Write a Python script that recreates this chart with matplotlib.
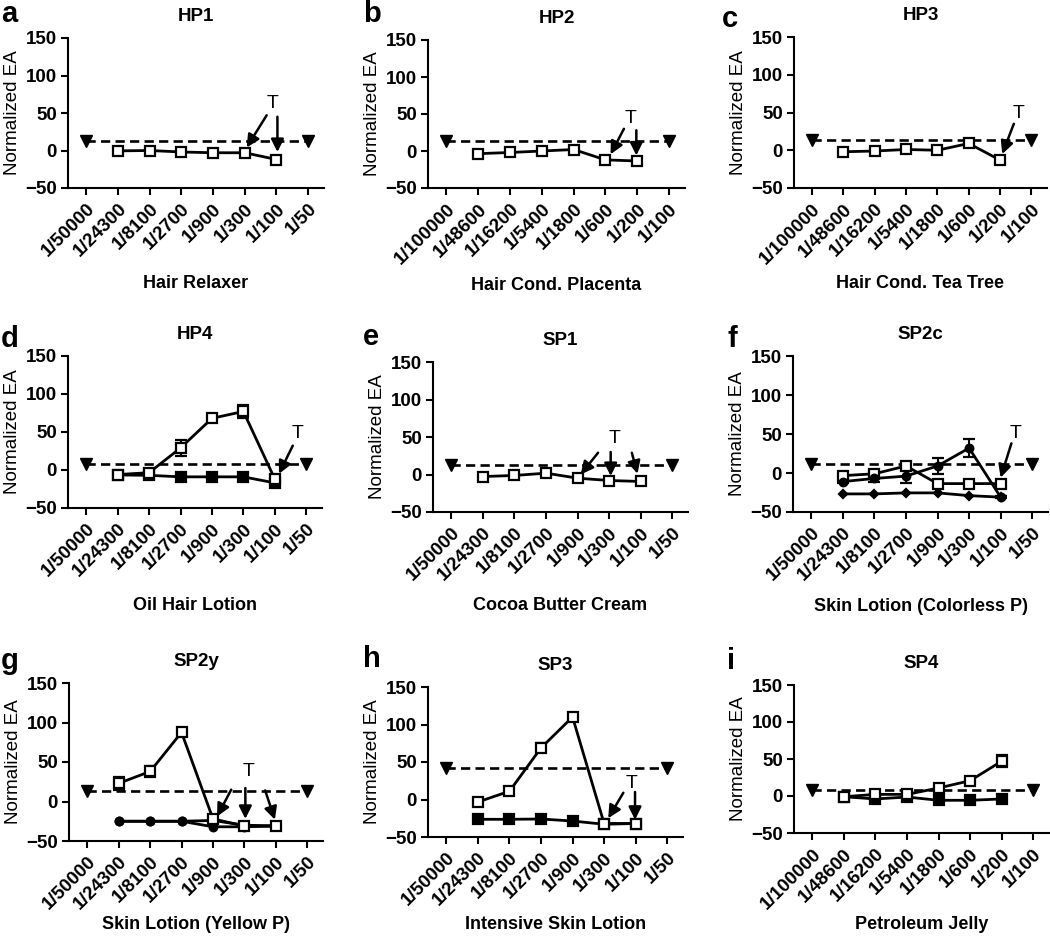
import matplotlib
matplotlib.use('Agg')
import matplotlib.pyplot as plt

plt.rcParams['font.family'] = ['Liberation Sans', 'DejaVu Sans']

# dilution labels
ticks_a = ['1/50000', '1/24300', '1/8100', '1/2700', '1/900', '1/300', '1/100', '1/50']
ticks_b = ['1/100000', '1/48600', '1/16200', '1/5400', '1/1800', '1/600', '1/200', '1/100']

letters = ['a', 'b', 'c', 'd', 'e', 'f', 'g', 'h', 'i']
titles = ['HP1', 'HP2', 'HP3', 'HP4', 'SP1', 'SP2c', 'SP2y', 'SP3', 'SP4']
xlabels = ['Hair Relaxer', 'Hair Cond. Placenta', 'Hair Cond. Tea Tree',
           'Oil Hair Lotion', 'Cocoa Butter Cream', 'Skin Lotion (Colorless P)',
           'Skin Lotion (Yellow P)', 'Intensive Skin Lotion', 'Petroleum Jelly']

# dashed cut-off level (drawn at first and last dilution)
cutoff = [13, 13.5, 13, 8, 12.4, 12, 13.5, 42.4, 7.6]

# normalized EA at the six tested dilutions
hp1_open = [-0.5, 0, -2, -3, -3, -12]
hp2_open = [-3.6, -2, 0, 2, -12, -13.5]
hp3_open = [-2, -1, 1, 0, 9, -13]
hp4_open = [-6, -3.5, 29, 68, 77, -12]
hp4_open_err = [1, 1, 10, 3, 8, 2]
hp4_filled = [-6.5, -7, -9, -9, -9, -17]
sp1_open = [-2.7, -1.3, 1.8, -4.9, -8, -9.3]
sp2c_open = [-3.4, -1, 9, -13.6, -13.6, -13.6]
sp2c_circle = [-11, -7, -4, 9, 32, -31]
sp2c_circle_err = [2, 5, 9, 10, 12, 1]
sp2c_diamond = [-26.8, -26.8, -25.5, -25.5, -29, -31]
sp2y_open = [23, 38, 87.5, -22, -31, -31]
sp2y_open_err = [8, 7, 4, 2, 1, 1]
sp2y_circle1 = [-25, -25, -25, -32, -32, -31]
sp2y_circle2 = [-25, -25, -25, -24, -30, -31]
sp3_open = [-3.3, 11, 68.7, 110, -32, -32]
sp3_open_err = [2, 5, 6, 2, 1, 1]
sp3_filled = [-26.4, -26.4, -26, -28.7, -33, -32]
sp4_open = [-1, 2.2, 2.2, 10.8, 20.7, 47]
sp4_open_err = [1, 1, 1, 1, 2, 8]
sp4_filled = [-1, -4, -1.4, -5.8, -5.8, -4]

W, H = 1050, 936
fig = plt.figure(figsize=(W / 100, H / 100), dpi=100)

# axes boxes in pixels: left, top, right, bottom
boxes = [(68, 38, 324, 188), (428, 40, 685, 188), (794, 37, 1047, 188),
         (68, 356, 322, 508), (433, 362, 688, 512), (793, 356, 1048, 512),
         (69, 683, 323, 841), (428, 687, 683, 837), (794, 685, 1049, 833)]
letter_pos = [(1, 0), (363, 0), (722, 5), (1, 325), (363, 323), (727, 325),
              (1, 647), (363, 645), (727, 647)]
# top of the x label, pixels
xlabel_top = [275, 277, 275, 597, 597, 598, 916, 916, 916]

# series for each panel: (values, errors, marker, face)
panel_series = [
    [(hp1_open, None, 's', 'white')],
    [(hp2_open, None, 's', 'white')],
    [(hp3_open, None, 's', 'white')],
    [(hp4_filled, None, 's', 'black'), (hp4_open, hp4_open_err, 's', 'white')],
    [(sp1_open, None, 's', 'white')],
    [(sp2c_diamond, None, 'D', 'black'), (sp2c_open, None, 's', 'white'),
     (sp2c_circle, sp2c_circle_err, 'o', 'black')],
    [(sp2y_circle1, None, 'o', 'black'), (sp2y_circle2, None, 'o', 'black'),
     (sp2y_open, sp2y_open_err, 's', 'white')],
    [(sp3_filled, None, 's', 'black'), (sp3_open, sp3_open_err, 's', 'white')],
    [(sp4_filled, None, 's', 'black'), (sp4_open, sp4_open_err, 's', 'white')],
]

# "T" arrows: list of (x_from, y_from, x_to, y_to) and T label spot
arrows = [
    ([(5.69, 47, 5.06, 4), (6.03, 45, 6.03, -2)], (5.88, 63)),
    ([(5.58, 30, 5.16, -4.5), (5.97, 28, 5.97, -6)], (5.79, 44)),
    ([(6.44, 35, 6.07, -5)], (6.6, 49)),
    ([(6.57, 32, 6.13, -5)], (6.73, 48)),
    ([(4.65, 29, 4.1, 0), (5.05, 30, 5.05, -2), (5.72, 29, 5.9, 1)], (5.16, 48)),
    ([(6.34, 38, 6.0, -6)], (6.48, 51)),
    ([(4.58, 15, 4.13, -19), (5.03, 17, 5.03, -22), (5.66, 14, 5.97, -23)], (5.13, 38)),
    ([(5.61, 9, 5.13, -25), (5.98, 10, 5.98, -27)], (5.88, 21)),
    ([], None),
]

x6 = [1, 2, 3, 4, 5, 6]
marker_size = {'s': 7, 'o': 5.5, 'D': 4.5}

for i in range(9):
    l, t, r, b = boxes[i]
    ax = fig.add_axes([l / W, 1 - b / H, (r - l) / W, (b - t) / H])
    ticks = ticks_b if i in (1, 2, 8) else ticks_a

    # cut-off line
    ax.plot([0, 7], [cutoff[i], cutoff[i]], ls=(0, (3.5, 2)), color='black', lw=1.9,
            marker='v', ms=8, clip_on=False, zorder=2)

    for vals, err, mk, face in panel_series[i]:
        ax.errorbar(x6, vals, yerr=err, color='black', lw=2, marker=mk,
                    ms=marker_size[mk], mfc=face, mec='black', mew=1.6,
                    capsize=4, capthick=1.5, elinewidth=1.5, clip_on=False, zorder=3)

    for x0, y0, x1, y1 in arrows[i][0]:
        ax.annotate('', xy=(x1, y1), xytext=(x0, y0),
                    arrowprops=dict(arrowstyle='-|>', color='black', lw=1.8,
                                    mutation_scale=19, shrinkA=0, shrinkB=0),
                    zorder=5)
    if arrows[i][1] is not None:
        ax.text(arrows[i][1][0], arrows[i][1][1], 'T', fontsize=14,
                ha='center', va='center')

    ax.set_xlim(-0.58, 7.5)
    ax.set_ylim(-50, 150)
    ax.set_yticks([-50, 0, 50, 100, 150])
    ax.set_xticks(range(8))
    ax.set_xticklabels(ticks, rotation=45, ha='right', va='top',
                       rotation_mode='anchor', fontweight='bold', fontsize=13.5)
    for lab in ax.get_yticklabels():
        lab.set_fontweight('bold')
        lab.set_fontsize(13.5)
    ax.tick_params(axis='both', direction='out', length=5, width=1.5, pad=3)
    ax.tick_params(axis='x', pad=4)
    ax.spines['top'].set_visible(False)
    ax.spines['right'].set_visible(False)
    ax.spines['left'].set_linewidth(1.5)
    ax.spines['bottom'].set_linewidth(1.5)

    ax.set_ylabel('Normalized EA', fontsize=13.5, labelpad=3)
    ax.set_title(titles[i], fontsize=13.5, fontweight='bold', pad=12)
    ax.set_xlabel(xlabels[i], fontsize=13, fontweight='bold')
    ax.xaxis.set_label_coords(0.5, -(xlabel_top[i] - b) / (b - t))
    ax.xaxis.label.set_va('top')

    fig.text(letter_pos[i][0] / W, 1 - letter_pos[i][1] / H, letters[i],
             fontsize=21, fontweight='bold', ha='left', va='top')

fig.savefig('out.png', dpi=100)
